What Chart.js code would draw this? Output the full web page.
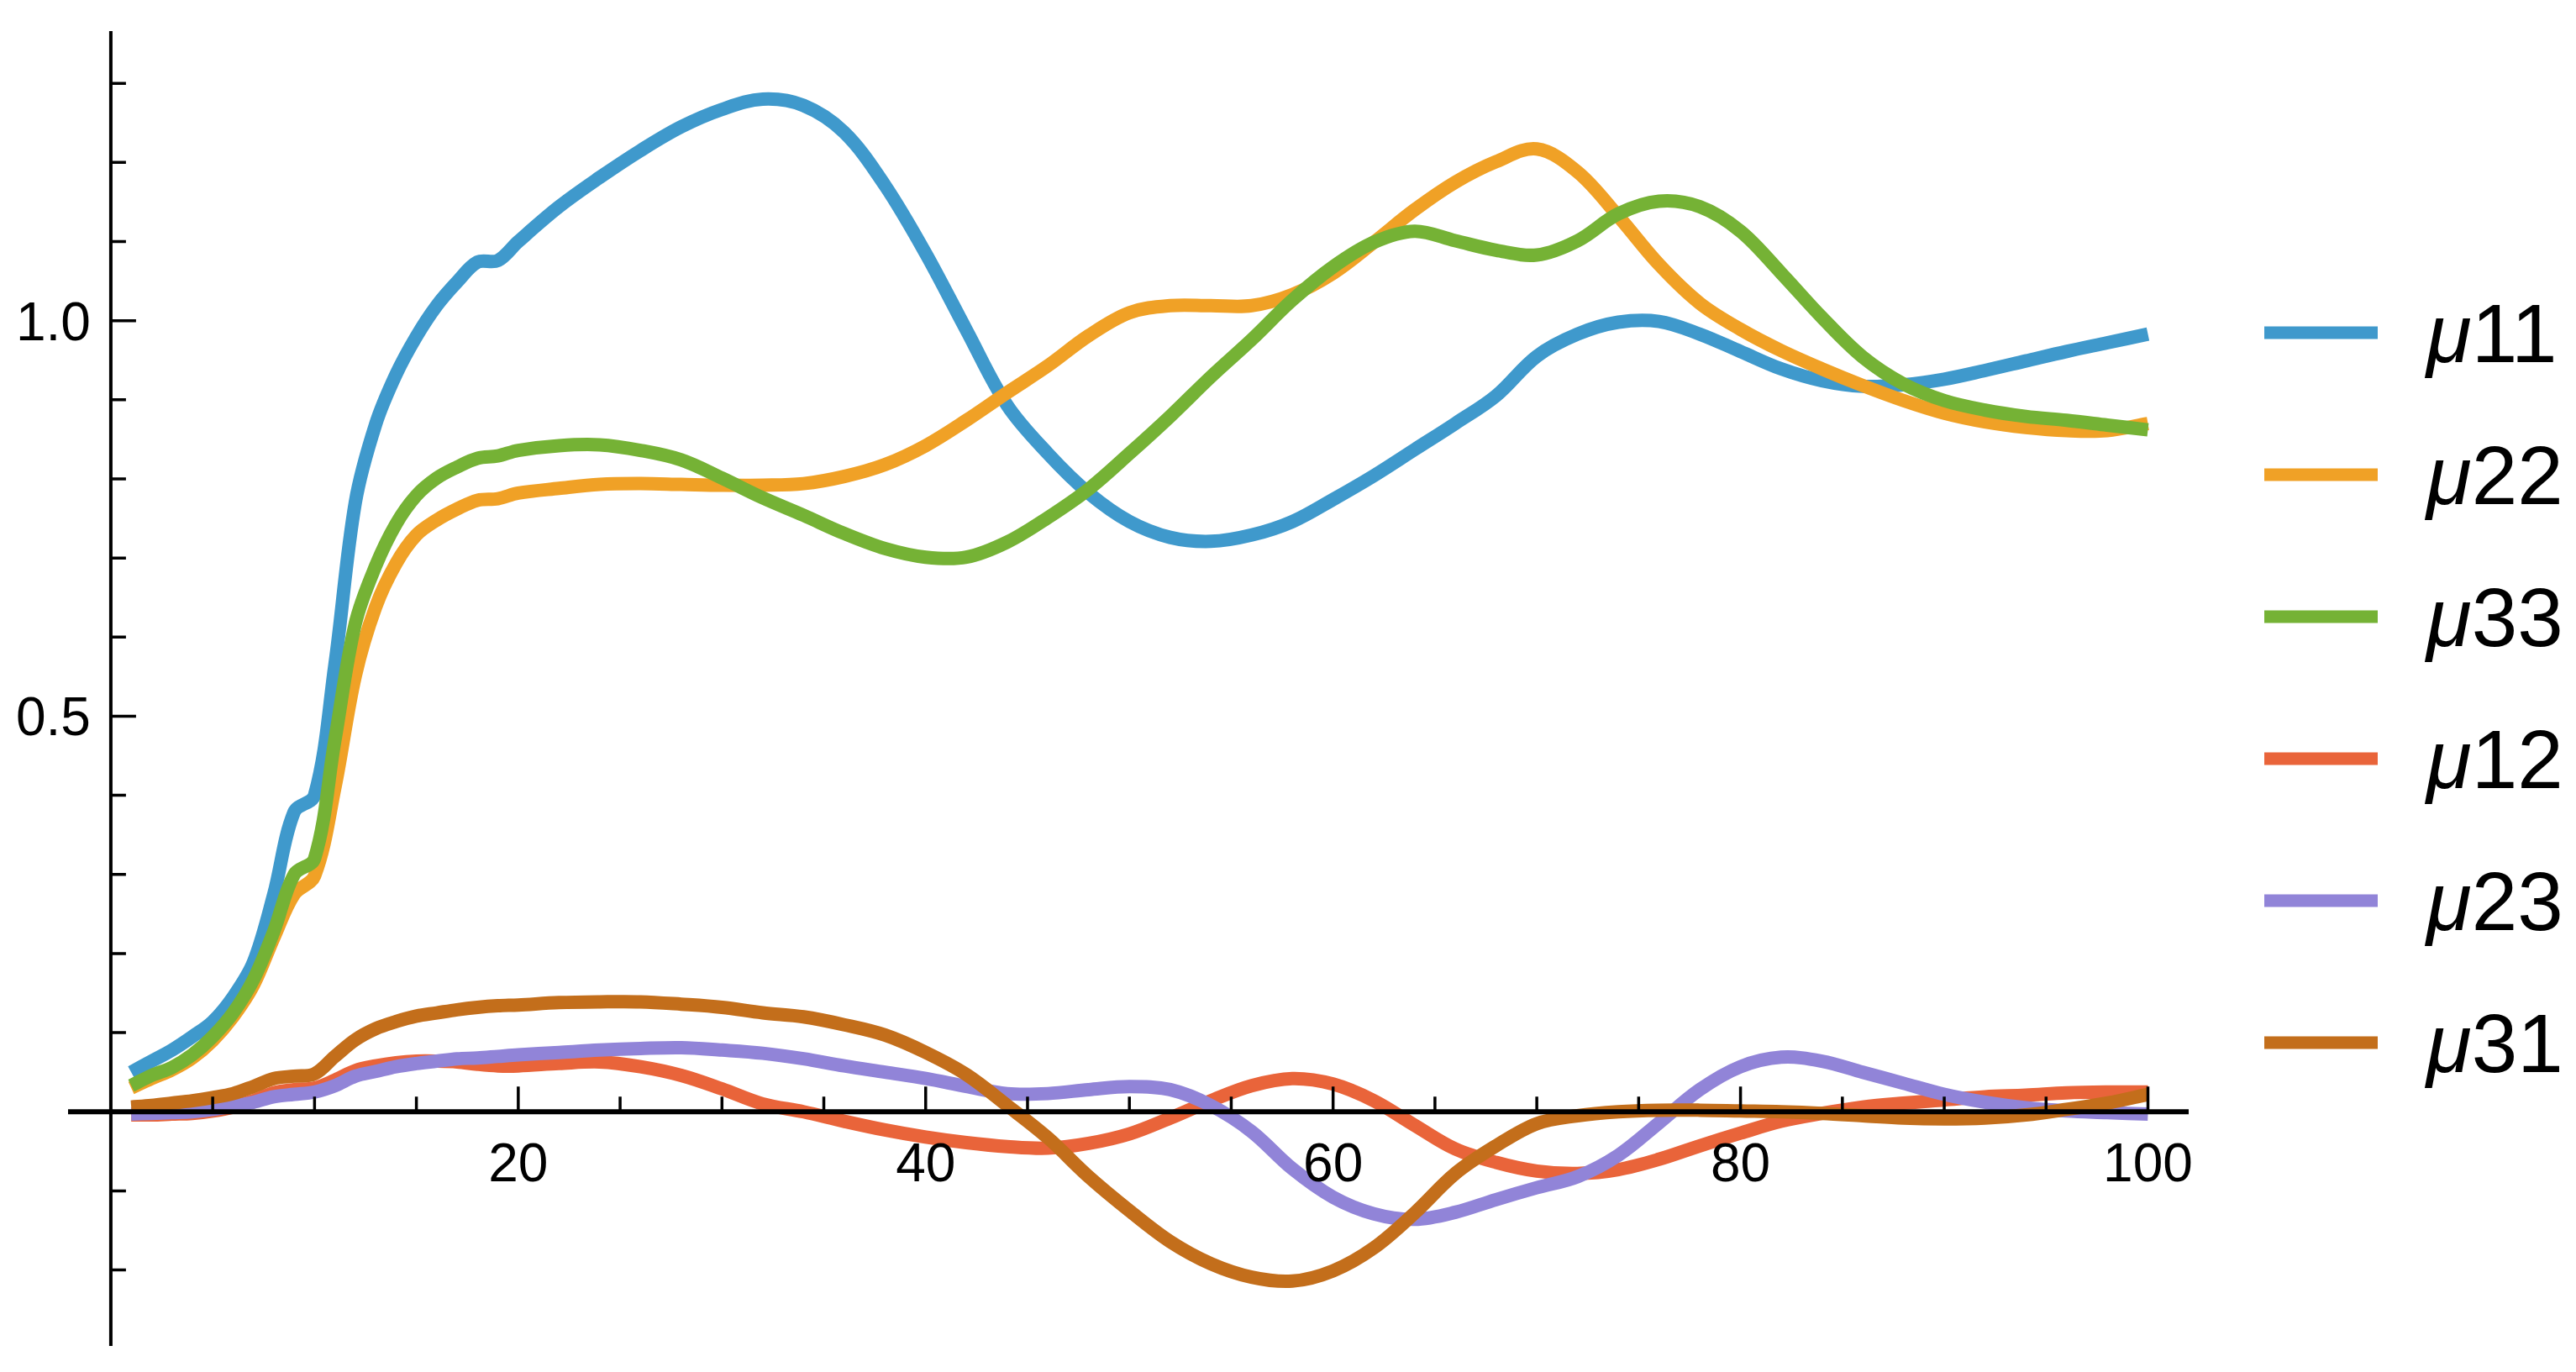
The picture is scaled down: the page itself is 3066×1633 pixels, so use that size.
<!DOCTYPE html>
<html>
<head>
<meta charset="utf-8">
<title>mu components</title>
<script src="https://cdn.jsdelivr.net/npm/chart.js@4.4.1/dist/chart.umd.min.js"></script>
<style>
  html, body { margin: 0; padding: 0; background: #fff; }
  #plot { display: block; }
</style>
</head>
<body>
<canvas id="plot" width="3066" height="1633"></canvas>
<script>
// ========================== DATA ==============================
const xs = [1, 2, 3, 4, 5, 6, 7, 8, 9, 10, 11, 12, 13, 14, 15, 16, 17, 18, 19, 20,
  22, 24, 26, 28, 30, 32,
  34, 36, 38, 40, 42, 44, 46, 48, 50, 52, 54, 56, 58, 60, 62, 64, 66,
  68, 70, 72, 74, 76, 78, 80, 82, 84, 86, 88, 90, 92, 94, 96, 98, 100];

const mu11 = [0.050, 0.064, 0.078, 0.095, 0.114, 0.145, 0.189, 0.275, 0.379, 0.400, 0.565, 0.770, 0.869, 0.932, 0.980, 1.019, 1.049, 1.074, 1.076, 1.100,
  1.144, 1.181, 1.215, 1.245, 1.267, 1.280,
  1.272, 1.238, 1.171, 1.085, 0.988, 0.893, 0.832, 0.782, 0.746, 0.726, 0.721, 0.729, 0.746, 0.774, 0.804, 0.837, 0.870,
  0.905, 0.955, 0.983, 0.998, 0.999, 0.983, 0.961, 0.939, 0.924, 0.917, 0.919, 0.926, 0.937, 0.949, 0.961, 0.972, 0.983];

const mu22 = [0.030, 0.042, 0.053, 0.068, 0.090, 0.120, 0.160, 0.220, 0.275, 0.298, 0.410, 0.551, 0.638, 0.693, 0.729, 0.748, 0.762, 0.773, 0.775, 0.782,
  0.788, 0.793, 0.794, 0.793, 0.792, 0.792,
  0.794, 0.803, 0.818, 0.842, 0.874, 0.909, 0.943, 0.981, 1.010, 1.019, 1.019, 1.019, 1.033, 1.060, 1.099, 1.140, 1.175,
  1.201, 1.217, 1.188, 1.132, 1.071, 1.022, 0.989, 0.962, 0.939, 0.918, 0.899, 0.883, 0.872, 0.865, 0.861, 0.861, 0.870];

const mu33 = [0.033, 0.046, 0.056, 0.072, 0.095, 0.125, 0.167, 0.228, 0.300, 0.320, 0.470, 0.617, 0.690, 0.743, 0.779, 0.801, 0.815, 0.826, 0.829, 0.836,
  0.842, 0.843, 0.836, 0.824, 0.801, 0.776,
  0.754, 0.731, 0.712, 0.701, 0.701, 0.720, 0.751, 0.787, 0.832, 0.879, 0.929, 0.976, 1.026, 1.068, 1.099, 1.113, 1.101,
  1.089, 1.083, 1.101, 1.135, 1.151, 1.144, 1.113, 1.060, 1.004, 0.954, 0.920, 0.899, 0.887, 0.879, 0.874, 0.868, 0.862];

const mu12 = [-0.004, -0.004, -0.003, -0.002, 0.001, 0.006, 0.014, 0.024, 0.028, 0.030, 0.040, 0.052, 0.058, 0.062, 0.064, 0.064, 0.063, 0.060, 0.058, 0.058,
  0.061, 0.063, 0.057, 0.046, 0.029, 0.010,
  0.000, -0.012, -0.023, -0.032, -0.039, -0.044, -0.046, -0.040, -0.028, -0.008, 0.014, 0.033, 0.042, 0.035, 0.014, -0.017, -0.047,
  -0.064, -0.075, -0.078, -0.073, -0.060, -0.043, -0.027, -0.012, -0.002, 0.006, 0.011, 0.015, 0.019, 0.021, 0.024, 0.025, 0.025];

const mu23 = [-0.003, -0.002, -0.001, 0.000, 0.003, 0.007, 0.012, 0.019, 0.022, 0.025, 0.033, 0.045, 0.051, 0.057, 0.061, 0.064, 0.067, 0.068, 0.070, 0.072,
  0.075, 0.078, 0.080, 0.081, 0.078, 0.074,
  0.067, 0.058, 0.050, 0.042, 0.032, 0.023, 0.023, 0.028, 0.032, 0.028, 0.008, -0.025, -0.072, -0.108, -0.129, -0.136, -0.127,
  -0.111, -0.096, -0.082, -0.055, -0.014, 0.028, 0.057, 0.069, 0.064, 0.050, 0.036, 0.022, 0.012, 0.005, 0.001, -0.001, -0.003];

const mu31 = [0.006, 0.008, 0.011, 0.014, 0.018, 0.023, 0.032, 0.042, 0.045, 0.048, 0.070, 0.091, 0.105, 0.114, 0.121, 0.125, 0.129, 0.132, 0.134, 0.135,
  0.138, 0.139, 0.139, 0.136, 0.132, 0.125,
  0.120, 0.110, 0.097, 0.075, 0.047, 0.008, -0.033, -0.082, -0.125, -0.164, -0.192, -0.209, -0.214, -0.201, -0.172, -0.128, -0.078,
  -0.043, -0.015, -0.005, 0.000, 0.002, 0.002, 0.001, 0.000, -0.002, -0.005, -0.008, -0.009, -0.008, -0.004, 0.003, 0.011, 0.022];

const seriesNames = ['μ11', 'μ22', 'μ33', 'μ12', 'μ23', 'μ31'];
const seriesValues = [mu11, mu22, mu33, mu12, mu23, mu31];
const seriesColors = ['#3f99cc', '#f0a126', '#75b235', '#e9643a', '#9184d8', '#c36e1b'];

const xMajorTicks = [20, 40, 60, 80, 100];
const xMinorTicks = [5, 10, 15, 25, 30, 35, 45, 50, 55, 65, 70, 75, 85, 90, 95];
const yMajorTicks = [0.5, 1.0];
const yMajorLabels = ['0.5', '1.0'];
const yMinorTicks = [-0.2, -0.1, 0.1, 0.2, 0.3, 0.4, 0.6, 0.7, 0.8, 0.9, 1.1, 1.2, 1.3];

// ========================== AXES (crossing at origin) ==============
const TICK_FONT = '64px "Liberation Sans", Arial, sans-serif';

const originAxes = {
  id: 'originAxes',
  afterDatasetsDraw(chart) {
    const ctx = chart.ctx;
    const sx = chart.scales.x;
    const sy = chart.scales.y;
    const area = chart.chartArea;
    const x0 = sx.getPixelForValue(0);
    const y0 = sy.getPixelForValue(0);

    ctx.save();
    ctx.strokeStyle = '#000';
    ctx.lineCap = 'butt';

    // y axis
    ctx.lineWidth = 4;
    ctx.beginPath();
    ctx.moveTo(x0, area.top);
    ctx.lineTo(x0, area.bottom);
    ctx.stroke();

    // x axis
    ctx.lineWidth = 6;
    ctx.beginPath();
    ctx.moveTo(area.left, y0);
    ctx.lineTo(area.right, y0);
    ctx.stroke();

    // ticks
    ctx.lineWidth = 3.5;
    ctx.beginPath();
    xMajorTicks.forEach(v => {
      const px = sx.getPixelForValue(v);
      ctx.moveTo(px, y0);
      ctx.lineTo(px, y0 - 30);
    });
    xMinorTicks.forEach(v => {
      const px = sx.getPixelForValue(v);
      ctx.moveTo(px, y0);
      ctx.lineTo(px, y0 - 18);
    });
    yMajorTicks.forEach(v => {
      const py = sy.getPixelForValue(v);
      ctx.moveTo(x0, py);
      ctx.lineTo(x0 + 30, py);
    });
    yMinorTicks.forEach(v => {
      const py = sy.getPixelForValue(v);
      ctx.moveTo(x0, py);
      ctx.lineTo(x0 + 18, py);
    });
    ctx.stroke();

    // tick labels
    ctx.fillStyle = '#000';
    ctx.font = TICK_FONT;
    ctx.textAlign = 'center';
    ctx.textBaseline = 'alphabetic';
    xMajorTicks.forEach(v => {
      ctx.fillText(String(v), sx.getPixelForValue(v), y0 + 83);
    });
    ctx.textAlign = 'right';
    yMajorTicks.forEach((v, i) => {
      ctx.fillText(yMajorLabels[i], x0 - 24, sy.getPixelForValue(v) + 23);
    });
    ctx.restore();
  }
};

// ========================== LEGEND ============================
const sideLegend = {
  id: 'sideLegend',
  afterDraw(chart) {
    const ctx = chart.ctx;
    ctx.save();
    seriesNames.forEach((name, i) => {
      const cy = 396 + i * 169;
      ctx.strokeStyle = seriesColors[i];
      ctx.lineWidth = 15;
      ctx.lineCap = 'butt';
      ctx.beginPath();
      ctx.moveTo(2695, cy);
      ctx.lineTo(2830, cy);
      ctx.stroke();

      ctx.fillStyle = '#000';
      ctx.textAlign = 'left';
      ctx.textBaseline = 'alphabetic';
      ctx.font = 'italic 98px "Liberation Sans", Arial, sans-serif';
      const greek = name.charAt(0);
      ctx.fillText(greek, 2888, cy + 35);
      const w = ctx.measureText(greek).width;
      ctx.font = '98px "Liberation Sans", Arial, sans-serif';
      ctx.fillText(name.slice(1), 2888 + w, cy + 35);
    });
    ctx.restore();
  }
};

// ========================== CHART =============================
function buildDatasets() {
  return seriesNames.map((name, i) => ({
    label: name,
    data: xs.map((x, k) => ({ x: x, y: seriesValues[i][k] })),
    borderColor: seriesColors[i],
    backgroundColor: seriesColors[i],
    borderWidth: 16,
    pointRadius: 0,
    fill: false,
    tension: 0.35,
    borderJoinStyle: 'round',
    order: seriesNames.length - 1 - i
  }));
}

new Chart(document.getElementById('plot'), {
  type: 'line',
  data: { datasets: buildDatasets() },
  options: {
    responsive: false,
    animation: false,
    devicePixelRatio: 1,
    layout: { padding: { left: 81, right: 461, top: 37, bottom: 31 } },
    plugins: {
      legend: { display: false },
      tooltip: { enabled: false }
    },
    scales: {
      x: { type: 'linear', min: -2.1, max: 102, display: false },
      y: { type: 'linear', min: -0.296, max: 1.366, display: false }
    }
  },
  plugins: [originAxes, sideLegend]
});
</script>
</body>
</html>
